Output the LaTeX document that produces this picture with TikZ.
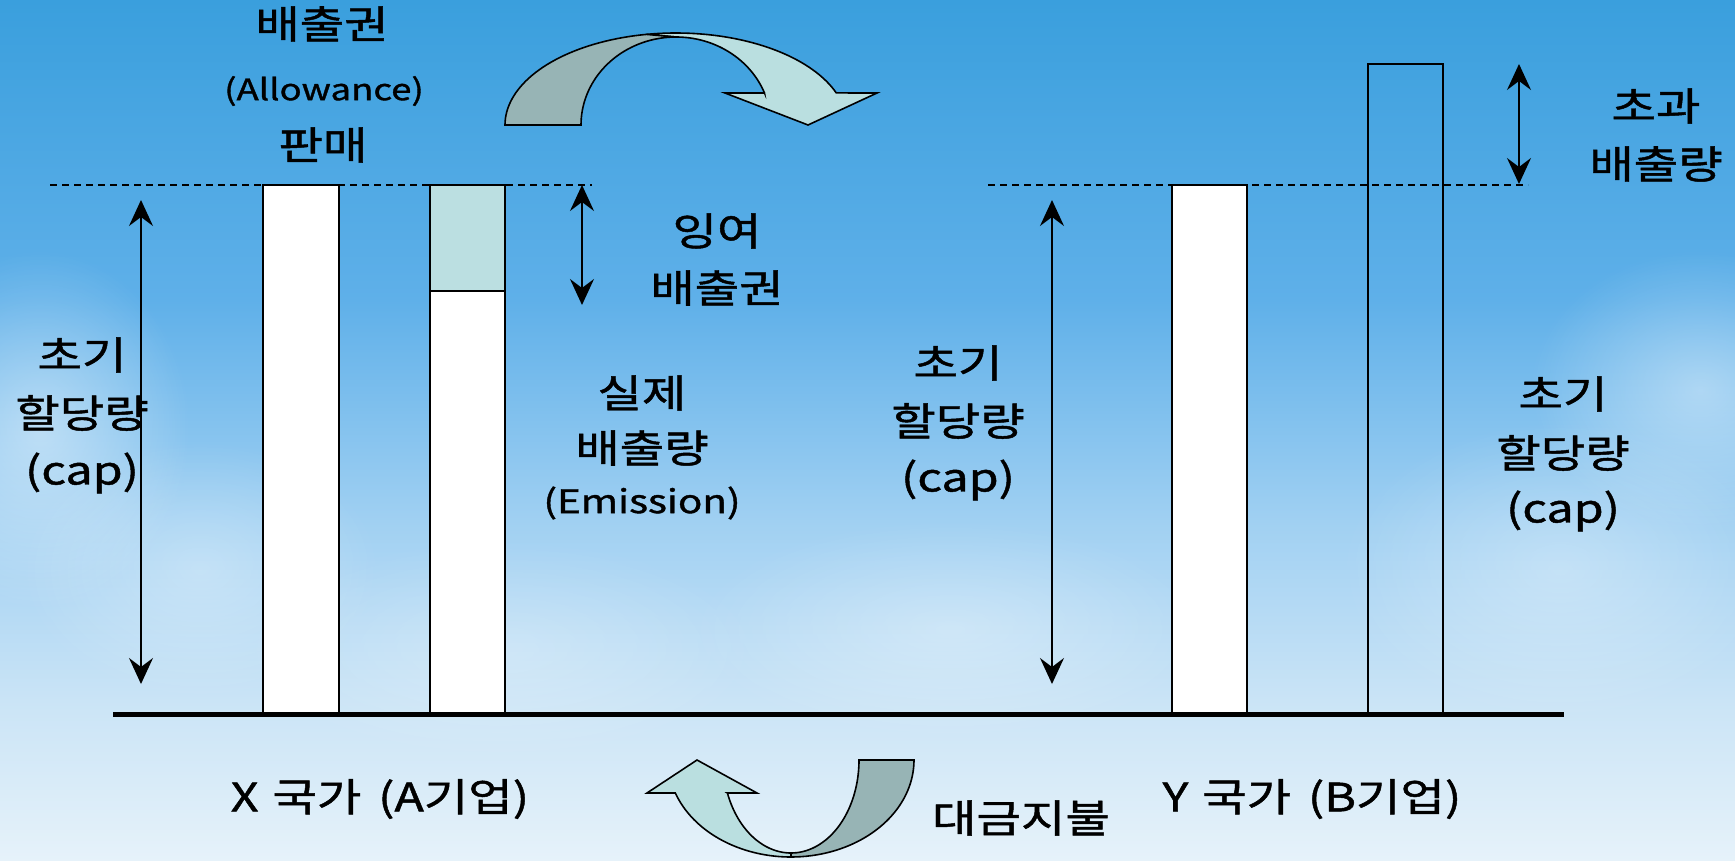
\documentclass[tikz,border=0pt]{standalone}
\usepackage{fontspec}
\newfontfamily\kr[FakeStretch=1.24,FakeBold=1.2]{Noto Sans CJK KR}
\usetikzlibrary{arrows.meta,fadings}
\tikzfading[name=cloudfade, inner color=transparent!0, outer color=transparent!100]
\definecolor{c0}{RGB}{58,159,221}
\definecolor{c1}{RGB}{95,176,233}
\definecolor{c2}{RGB}{160,208,242}
\definecolor{c3}{RGB}{202,228,246}
\definecolor{c4}{RGB}{230,242,250}
\definecolor{arrdark}{RGB}{151,180,181}
\definecolor{arrlight}{RGB}{186,223,224}
\definecolor{surplus}{RGB}{187,223,225}
\tikzset{
  lbl/.style={font={\kr\fontsize{39}{46}\selectfont}, inner sep=0pt, text=black},
  lblsmall/.style={font={\kr\fontsize{29.5}{36}\selectfont}, inner sep=0pt, text=black},
  lblmid/.style={font={\kr\fontsize{32.5}{40}\selectfont}, inner sep=0pt, text=black},
  dimarrow/.style={line width=1.6pt, {Stealth[length=26pt,width=24pt,inset=9pt]}-{Stealth[length=26pt,width=24pt,inset=9pt]}},
  capline/.style={line width=1.5pt, dash pattern=on 7pt off 5pt},
  barbox/.style={draw=black, line width=2pt, fill=white},
  cloudblob/.style={white, path fading=cloudfade},
  curvebody/.style={draw=black, line width=1.6pt}
}
\begin{document}
\begin{tikzpicture}[x=1pt,y=-1pt]
\useasboundingbox (0,0) rectangle (1735,861);
% sky background
\shade[top color=c0, bottom color=c1] (0,0) rectangle (1735,301);
\shade[top color=c1, bottom color=c2] (0,300) rectangle (1735,521);
\shade[top color=c2, bottom color=c3] (0,520) rectangle (1735,701);
\shade[top color=c3, bottom color=c4] (0,700) rectangle (1735,861);
% soft clouds
\fill[cloudblob, opacity=0.45] (40,430) ellipse (150 and 180);
\fill[cloudblob, opacity=0.30] (200,570) ellipse (180 and 130);
\fill[cloudblob, opacity=0.40] (1700,390) ellipse (170 and 140);
\fill[cloudblob, opacity=0.30] (1560,570) ellipse (220 and 150);
\fill[cloudblob, opacity=0.30] (950,630) ellipse (260 and 110);
\fill[cloudblob, opacity=0.25] (500,650) ellipse (260 and 110);

% cap reference lines
\coordinate (dashLa) at (50,185);
\coordinate (dashLb) at (592,185);
\coordinate (dashRa) at (988,185);
\coordinate (dashRb) at (1528,185);
\draw[capline] (dashLa) -- (dashLb);
\draw[capline] (dashRa) -- (dashRb);

% bars
\draw[barbox] (263,185) rectangle (339,714);
\fill[white] (430,291) rectangle (505,714);
\fill[surplus] (430,185) rectangle (505,291);
\draw[line width=2pt] (430,291) -- (505,291);
\draw[line width=2pt] (430,185) rectangle (505,714);
\draw[barbox] (1172,185) rectangle (1247,714);
\draw[line width=1.6pt] (1368,714) -- (1368,64) -- (1443,64) -- (1443,714);

% baseline
\coordinate (baseL) at (113,714);
\coordinate (baseR) at (1564,714);
\draw[line width=5pt] (baseL) -- (baseR);

% dimension arrows
\coordinate (capLtop) at (141,200);
\coordinate (capLbot) at (141,684);
\coordinate (capMtop) at (1052,200);
\coordinate (capMbot) at (1052,684);
\coordinate (surTop) at (582,185);
\coordinate (surBot) at (582,305);
\coordinate (excTop) at (1519,64);
\coordinate (excBot) at (1519,184);
\draw[dimarrow] (capLtop) -- (capLbot);
\draw[dimarrow] (capMtop) -- (capMbot);
\draw[dimarrow] (surTop) -- (surBot);
\draw[dimarrow] (excTop) -- (excBot);

% top curved arrow (allowance sale)
\draw[curvebody, fill=arrlight]
  plot[domain=100:20.4, samples=40, variable=\t] ({676+171*cos(\t)},{125-92*sin(\t)})
  -- (877,93) -- (808,125) -- (725,93) -- (764.5,93)
  -- plot[domain=21.3:90, samples=40, variable=\t] ({676+95*cos(\t)},{125-88*sin(\t)})
  -- cycle;
\draw[curvebody, fill=arrdark]
  plot[domain=180:100, samples=40, variable=\t] ({676+171*cos(\t)},{125-92*sin(\t)})
  -- plot[domain=90:180, samples=40, variable=\t] ({676+95*cos(\t)},{125-88*sin(\t)})
  -- cycle;

% bottom curved arrow (payment)
\draw[curvebody, fill=arrlight]
  plot[domain=90:160.1, samples=40, variable=\t] ({791+123*cos(\t)},{760+97*sin(\t)})
  -- (647,793) -- (697,760) -- (757,793) -- (727.4,793)
  -- plot[domain=159.2:90, samples=40, variable=\t] ({791+68*cos(\t)},{760+93*sin(\t)})
  -- cycle;
\draw[curvebody, fill=arrdark]
  plot[domain=0:90, samples=40, variable=\t] ({791+123*cos(\t)},{760+97*sin(\t)})
  -- plot[domain=90:0, samples=40, variable=\t] ({791+68*cos(\t)},{760+93*sin(\t)})
  -- cycle;

% labels
\node[lbl] (sell1) at (322,24) {배출권};
\node[lblsmall] (sell2) at (324,91) {(Allowance)};
\node[lbl] (sell3) at (323,145) {판매};

\node[lbl] (sur1) at (717,231) {잉여};
\node[lbl] (sur2) at (717,288) {배출권};

\node[lbl] (capL1) at (82,355) {초기};
\node[lbl] (capL2) at (82,413) {할당량};
\node[lbl] (capL3) at (82,473) {(cap)};

\node[lbl] (emi1) at (642,393) {실제};
\node[lbl] (emi2) at (642,448) {배출량};
\node[lblmid] (emi3) at (642,503) {(Emission)};

\node[lbl] (capM1) at (958,363) {초기};
\node[lbl] (capM2) at (958,421) {할당량};
\node[lbl] (capM3) at (958,480) {(cap)};

\node[lbl] (capR1) at (1563,394) {초기};
\node[lbl] (capR2) at (1563,453) {할당량};
\node[lbl] (capR3) at (1563,511) {(cap)};

\node[lbl] (exc1) at (1656,106) {초과};
\node[lbl] (exc2) at (1656,164) {배출량};

\node[lbl] (ctyX) at (380,799) {X\hspace{0.08em} 국가\hspace{0.15em} (A기업)};
\node[lbl] (ctyY) at (1312,799) {Y\hspace{0.08em} 국가\hspace{0.15em} (B기업)};
\node[lbl] (pay) at (1021,818) {대금지불};
\end{tikzpicture}
\end{document}
